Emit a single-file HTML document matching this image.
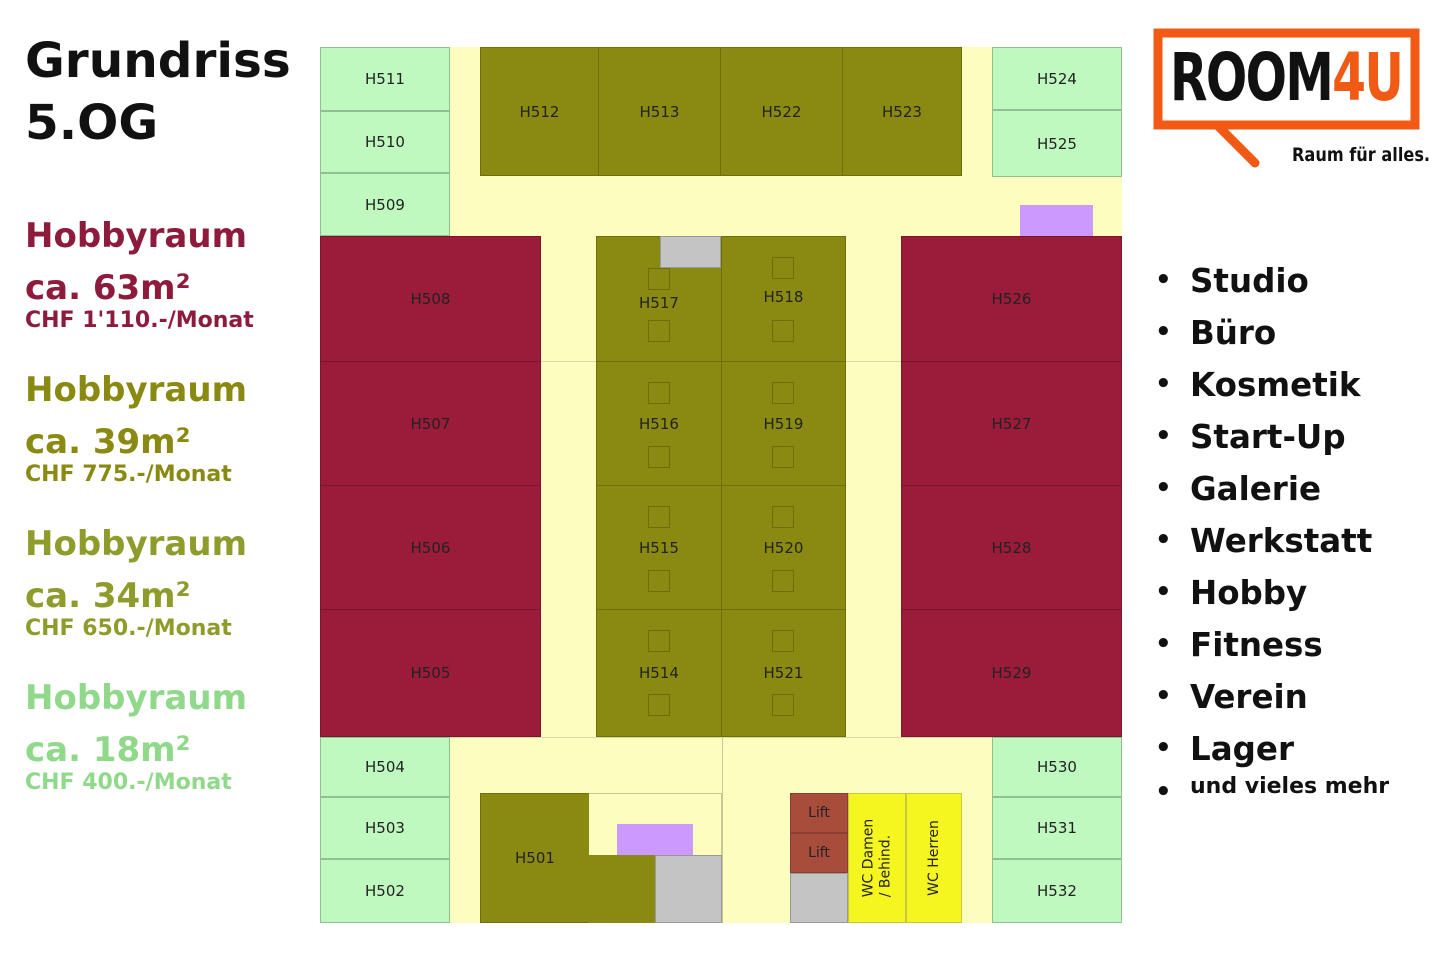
<!DOCTYPE html>
<html><head><meta charset="utf-8"><style>
*{margin:0;padding:0;box-sizing:border-box}
body{width:1440px;height:972px;background:#fff;position:relative;overflow:hidden;font-family:"DejaVu Sans","Liberation Sans",sans-serif}
.r{position:absolute;display:flex;align-items:center;justify-content:center;font-size:15px;color:#222;border:1px solid rgba(0,0,0,.18)}
.g{background:#c0f9c0;border-color:#8fc08f}
.o{background:#8a8a12;border-color:#6f6f08}
.d{background:#9a1c3a;border-color:#7a1530}
.gr{background:#c4c4c4;border-color:#999}
.p{background:#cc99ff;border:none}
.sq{position:absolute;width:22px;height:22px;border:1.5px solid #6e6e08}
.t{position:absolute;font-weight:bold;white-space:nowrap}
.b{position:absolute;left:1155px;font-weight:bold;font-size:32.5px;color:#111;white-space:nowrap}
.b:before{content:"•";font-size:26px;position:absolute;left:0;top:3px}
.b span{margin-left:35px}
</style></head><body>
<div class="t" style="left:25px;top:30px;font-size:48.5px;line-height:62px;color:#111">Grundriss<br>5.OG</div>
<div class="t" style="left:25px;top:210px;font-size:34px;line-height:52px;color:#8e1b3c">Hobbyraum<br>ca. 63m²</div>
<div class="t" style="left:25px;top:308px;font-size:22px;color:#8e1b3c">CHF 1'110.-/Monat</div>
<div class="t" style="left:25px;top:364px;font-size:34px;line-height:52px;color:#8a8a12">Hobbyraum<br>ca. 39m²</div>
<div class="t" style="left:25px;top:462px;font-size:22px;color:#8a8a12">CHF 775.-/Monat</div>
<div class="t" style="left:25px;top:518px;font-size:34px;line-height:52px;color:#8f9c2c">Hobbyraum<br>ca. 34m²</div>
<div class="t" style="left:25px;top:616px;font-size:22px;color:#8f9c2c">CHF 650.-/Monat</div>
<div class="t" style="left:25px;top:672px;font-size:34px;line-height:52px;color:#90d98a">Hobbyraum<br>ca. 18m²</div>
<div class="t" style="left:25px;top:770px;font-size:22px;color:#90d98a">CHF 400.-/Monat</div>

<div style="position:absolute;left:320px;top:47px;width:802px;height:876px;background:#fdfdc0"></div>
<div style="position:absolute;left:320px;top:361px;width:802px;height:1px;background:#d8d8a0"></div>
<div style="position:absolute;left:722px;top:737px;width:1px;height:186px;background:#c8c890"></div>
<div style="position:absolute;left:450px;top:737px;width:542px;height:1px;background:#d8d8a0"></div>

<div class="r g" style="left:320px;top:47px;width:130px;height:64px">H511</div>
<div class="r g" style="left:320px;top:111px;width:130px;height:62px">H510</div>
<div class="r g" style="left:320px;top:173px;width:130px;height:63px">H509</div>
<div class="r g" style="left:320px;top:737px;width:130px;height:60px">H504</div>
<div class="r g" style="left:320px;top:797px;width:130px;height:62px">H503</div>
<div class="r g" style="left:320px;top:859px;width:130px;height:64px">H502</div>
<div class="r g" style="left:992px;top:47px;width:130px;height:63px">H524</div>
<div class="r g" style="left:992px;top:110px;width:130px;height:67px">H525</div>
<div class="r g" style="left:992px;top:737px;width:130px;height:60px">H530</div>
<div class="r g" style="left:992px;top:797px;width:130px;height:62px">H531</div>
<div class="r g" style="left:992px;top:859px;width:130px;height:64px">H532</div>
<div class="r p" style="left:1020px;top:205px;width:73px;height:31px"></div>

<div class="r o" style="left:480px;top:47px;width:119px;height:129px">H512</div>
<div class="r o" style="left:598px;top:47px;width:123px;height:129px">H513</div>
<div class="r o" style="left:720px;top:47px;width:123px;height:129px">H522</div>
<div class="r o" style="left:842px;top:47px;width:120px;height:129px">H523</div>

<div class="r d" style="left:320px;top:236px;width:221px;height:126px">H508</div>
<div class="r d" style="left:320px;top:361px;width:221px;height:125px">H507</div>
<div class="r d" style="left:320px;top:485px;width:221px;height:125px">H506</div>
<div class="r d" style="left:320px;top:609px;width:221px;height:128px">H505</div>
<div class="r d" style="left:901px;top:236px;width:221px;height:126px">H526</div>
<div class="r d" style="left:901px;top:361px;width:221px;height:125px">H527</div>
<div class="r d" style="left:901px;top:485px;width:221px;height:125px">H528</div>
<div class="r d" style="left:901px;top:609px;width:221px;height:128px">H529</div>

<div class="r o" style="left:596px;top:236px;width:126px;height:126px;padding-top:8px">H517</div>
<div class="r o" style="left:721px;top:236px;width:125px;height:126px;padding-bottom:4px">H518</div>
<div class="r o" style="left:596px;top:361px;width:126px;height:125px">H516</div>
<div class="r o" style="left:721px;top:361px;width:125px;height:125px">H519</div>
<div class="r o" style="left:596px;top:485px;width:126px;height:125px">H515</div>
<div class="r o" style="left:721px;top:485px;width:125px;height:125px">H520</div>
<div class="r o" style="left:596px;top:609px;width:126px;height:128px">H514</div>
<div class="r o" style="left:721px;top:609px;width:125px;height:128px">H521</div>
<div class="r gr" style="left:660px;top:236px;width:61px;height:32px"></div>

<div class="sq" style="left:648px;top:268px"></div><div class="sq" style="left:648px;top:320px"></div>
<div class="sq" style="left:772px;top:257px"></div><div class="sq" style="left:772px;top:320px"></div>
<div class="sq" style="left:648px;top:382px"></div><div class="sq" style="left:648px;top:446px"></div>
<div class="sq" style="left:772px;top:382px"></div><div class="sq" style="left:772px;top:446px"></div>
<div class="sq" style="left:648px;top:506px"></div><div class="sq" style="left:648px;top:570px"></div>
<div class="sq" style="left:772px;top:506px"></div><div class="sq" style="left:772px;top:570px"></div>
<div class="sq" style="left:648px;top:630px"></div><div class="sq" style="left:648px;top:694px"></div>
<div class="sq" style="left:772px;top:630px"></div><div class="sq" style="left:772px;top:694px"></div>

<div style="position:absolute;left:480px;top:793px;width:242px;height:130px;border:1px solid #c8c890"></div>
<div class="r o" style="left:480px;top:793px;width:109px;height:130px;border-right:none">H501</div>
<div style="position:absolute;left:588px;top:855px;width:68px;height:68px;background:#8a8a12"></div>
<div class="r gr" style="left:655px;top:855px;width:67px;height:68px"></div>
<div class="r p" style="left:617px;top:824px;width:76px;height:31px"></div>

<div class="r" style="left:790px;top:793px;width:58px;height:40px;background:#a84c3c;font-size:14px">Lift</div>
<div class="r" style="left:790px;top:833px;width:58px;height:40px;background:#a84c3c;font-size:14px">Lift</div>
<div class="r gr" style="left:790px;top:873px;width:58px;height:50px"></div>
<div class="r" style="left:848px;top:793px;width:58px;height:130px;background:#f5f520;border-color:#c8c840"><div style="transform:rotate(-90deg);font-size:14px;line-height:17px;white-space:nowrap;text-align:left">WC Damen<br>/ Behind.</div></div>
<div class="r" style="left:906px;top:793px;width:56px;height:130px;background:#f5f520;border-color:#c8c840"><div style="transform:rotate(-90deg);font-size:14px;white-space:nowrap">WC Herren</div></div>

<svg style="position:absolute;left:1150px;top:25px" width="290" height="150">
<path d="M100 100 L8 100 L8 8 L265 8 L265 100 L80 100" fill="none" stroke="#f05a14" stroke-width="9"/>
<path d="M67 100 L105 138" stroke="#f05a14" stroke-width="9" stroke-linecap="round"/>
</svg>
<div class="t" style="left:1170px;top:38px;font-family:'Liberation Sans Narrow','DejaVu Sans Condensed',sans-serif;font-size:66px;line-height:80px;letter-spacing:-2px;transform:scaleX(0.82);transform-origin:left;color:#111">ROOM<span style="color:#f05a14">4U</span></div>
<div class="t" style="left:1292px;top:144px;font-size:19px;color:#111;transform:scaleX(0.85);transform-origin:left">Raum für alles.</div>

<div class="b" style="top:262px"><span>Studio</span></div>
<div class="b" style="top:314px"><span>Büro</span></div>
<div class="b" style="top:366px"><span>Kosmetik</span></div>
<div class="b" style="top:418px"><span>Start-Up</span></div>
<div class="b" style="top:470px"><span>Galerie</span></div>
<div class="b" style="top:522px"><span>Werkstatt</span></div>
<div class="b" style="top:574px"><span>Hobby</span></div>
<div class="b" style="top:626px"><span>Fitness</span></div>
<div class="b" style="top:678px"><span>Verein</span></div>
<div class="b" style="top:730px"><span>Lager</span></div>
<div class="b" style="top:774px;font-size:22px"><span>und vieles mehr</span></div>
</body></html>
